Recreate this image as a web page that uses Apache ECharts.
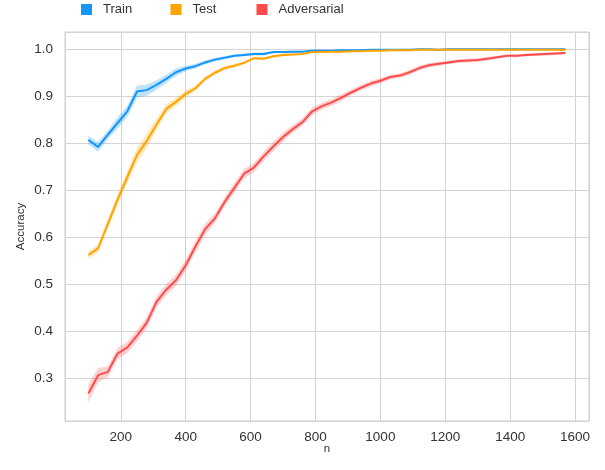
<!DOCTYPE html>
<html><head><meta charset="utf-8">
<script src="https://cdn.jsdelivr.net/npm/echarts@6/dist/echarts.min.js"></script>
<style>html,body{margin:0;padding:0;background:#fff}#c{width:605px;height:470px}</style>
</head><body><div id="c"></div>
<script>
const nValues = [100,130,160,190,220,250,280,310,340,370,400,430,460,490,520,550,580,610,640,670,700,730,760,790,820,850,880,910,940,970,1000,1030,1060,1090,1120,1150,1180,1210,1240,1270,1300,1330,1360,1390,1420,1450,1480,1510,1540,1570];
const trainAcc = [0.807,0.792,0.818,0.843,0.868,0.910,0.913,0.924,0.937,0.951,0.959,0.964,0.972,0.978,0.982,0.986,0.988,0.990,0.990,0.994,0.994,0.995,0.995,0.997,0.997,0.997,0.998,0.998,0.998,0.999,0.999,0.999,0.999,0.999,1.000,1.000,0.999,1.000,1.000,1.000,1.000,1.000,1.000,1.000,1.000,1.000,1.000,1.000,1.000,1.000];
const testAcc = [0.562,0.576,0.628,0.680,0.728,0.775,0.805,0.840,0.873,0.888,0.905,0.917,0.937,0.950,0.960,0.965,0.971,0.981,0.980,0.985,0.988,0.989,0.990,0.994,0.994,0.995,0.995,0.996,0.996,0.997,0.997,0.998,0.998,0.998,0.999,0.999,0.999,0.999,0.999,0.999,0.999,0.999,0.999,0.999,0.999,0.999,0.999,0.999,0.999,0.999];
const advAcc = [0.267,0.306,0.313,0.352,0.365,0.390,0.418,0.462,0.488,0.508,0.540,0.580,0.617,0.640,0.675,0.705,0.735,0.748,0.772,0.793,0.813,0.830,0.845,0.868,0.879,0.887,0.897,0.908,0.918,0.927,0.933,0.941,0.944,0.951,0.960,0.966,0.969,0.972,0.975,0.976,0.977,0.980,0.983,0.986,0.986,0.988,0.989,0.990,0.991,0.992];
const trainSpread = [0.009,0.010,0.009,0.012,0.012,0.013,0.012,0.010,0.009,0.008,0.006,0.005,0.004,0.004,0.003,0.003,0.003,0.003,0.003,0.002,0.002,0.002,0.002,0.002,0.002,0.002,0.002,0.002,0.002,0.001,0.001,0.001,0.001,0.001,0.001,0.001,0.001,0.001,0.001,0.001,0.001,0.001,0.001,0.001,0.001,0.001,0.001,0.001,0.001,0.001];
const testSpread = [0.008,0.008,0.010,0.012,0.013,0.015,0.015,0.012,0.010,0.009,0.008,0.006,0.005,0.005,0.004,0.004,0.003,0.003,0.003,0.003,0.003,0.002,0.002,0.002,0.002,0.002,0.002,0.002,0.002,0.002,0.002,0.002,0.002,0.001,0.001,0.001,0.001,0.001,0.001,0.001,0.001,0.001,0.001,0.001,0.001,0.001,0.001,0.001,0.001,0.001];
const advSpread = [0.020,0.015,0.012,0.012,0.012,0.012,0.012,0.012,0.012,0.012,0.012,0.012,0.012,0.010,0.010,0.010,0.010,0.010,0.010,0.010,0.010,0.008,0.008,0.008,0.007,0.007,0.007,0.006,0.006,0.006,0.006,0.005,0.005,0.005,0.005,0.005,0.004,0.004,0.004,0.004,0.004,0.004,0.003,0.003,0.003,0.003,0.003,0.003,0.003,0.003];
const seriesNames = ['Train','Test','Adversarial'];
const yTicks = [0.3,0.4,0.5,0.6,0.7,0.8,0.9,1.0];
const xTicks = [200,400,600,800,1000,1200,1400,1600];

const colors = ['#1496fa','#ffa500','#ff4b4b'];
const bandColors = ['rgba(20,150,250,0.27)','rgba(255,165,0,0.27)','rgba(255,75,75,0.25)'];
const means = [trainAcc, testAcc, advAcc];
const spreads = [trainSpread, testSpread, advSpread];
const FONT = 'Liberation Sans, Arial, sans-serif';

const chart = echarts.init(document.getElementById('c'), null, {renderer:'canvas'});
const series = [];
means.forEach((m, k) => {
  series.push({
    type:'custom', name: seriesNames[k], silent:true, z:1,
    data:[0],
    renderItem:(params, api) => {
      const pts = [];
      for (let i=0;i<nValues.length;i++) pts.push(api.coord([nValues[i], m[i]+spreads[k][i]]));
      for (let i=nValues.length-1;i>=0;i--) pts.push(api.coord([nValues[i], m[i]-spreads[k][i]]));
      return {type:'polygon', shape:{points:pts}, style:{fill:bandColors[k]}};
    },
    itemStyle:{color:colors[k]}
  });
});
means.forEach((m, k) => {
  series.push({
    type:'line', name: seriesNames[k], z:3,
    data: nValues.map((n,i)=>[n,m[i]]),
    showSymbol:false, symbol:'none',
    lineStyle:{color:colors[k], width:2},
    itemStyle:{color:colors[k]}
  });
});

const legendPos = [81, 170.5, 256.5];
chart.setOption({
  animation:false,
  backgroundColor:'#fff',
  legend: seriesNames.map((nm,k)=>({
    data:[{name:nm, icon:'rect', itemStyle:{color:colors[k]}}],
    left: legendPos[k], top: 0, itemWidth:11, itemHeight:11, padding:0,
    textStyle:{fontFamily:FONT, fontSize:13, color:'#333', padding:[0,0,0,6], lineHeight:19, verticalAlign:'top'}
  })),
  grid:{left:65, right:16, top:32, bottom:49, show:true, borderColor:'#cccccc', borderWidth:1},
  xAxis:{
    type:'value', min:28, max:1643, splitNumber:8,
    name:'n', nameLocation:'middle', nameGap:22, nameMoveOverlap:false,
    nameTextStyle:{fontFamily:FONT, fontSize:11.5, color:'#333'},
    axisLine:{show:false}, axisTick:{show:false},
    axisLabel:{showMinLabel:false, showMaxLabel:false, margin:9, fontFamily:FONT, fontSize:13.5, color:'#333',
      formatter:(v)=>{const t=xTicks.find(x=>Math.abs(x-v)<1e-6); return t!==undefined ? String(t) : '';}},
    splitLine:{show:true, lineStyle:{color:'#d4d4d4', width:1}}
  },
  yAxis:{
    type:'value', min:0.2084, max:1.0368, splitNumber:8,
    name:'Accuracy', nameLocation:'middle', nameGap:38, nameMoveOverlap:false,
    nameTextStyle:{fontFamily:FONT, fontSize:11.5, color:'#333'},
    axisLine:{show:false}, axisTick:{show:false},
    axisLabel:{showMinLabel:false, showMaxLabel:false, margin:12, fontFamily:FONT, fontSize:13.5, color:'#333',
      formatter:(v)=>{const t=yTicks.find(x=>Math.abs(x-v)<1e-6); return t!==undefined ? t.toFixed(1) : '';}},
    splitLine:{show:true, lineStyle:{color:'#d4d4d4', width:1}}
  },
  series: series
});
</script></body></html>
